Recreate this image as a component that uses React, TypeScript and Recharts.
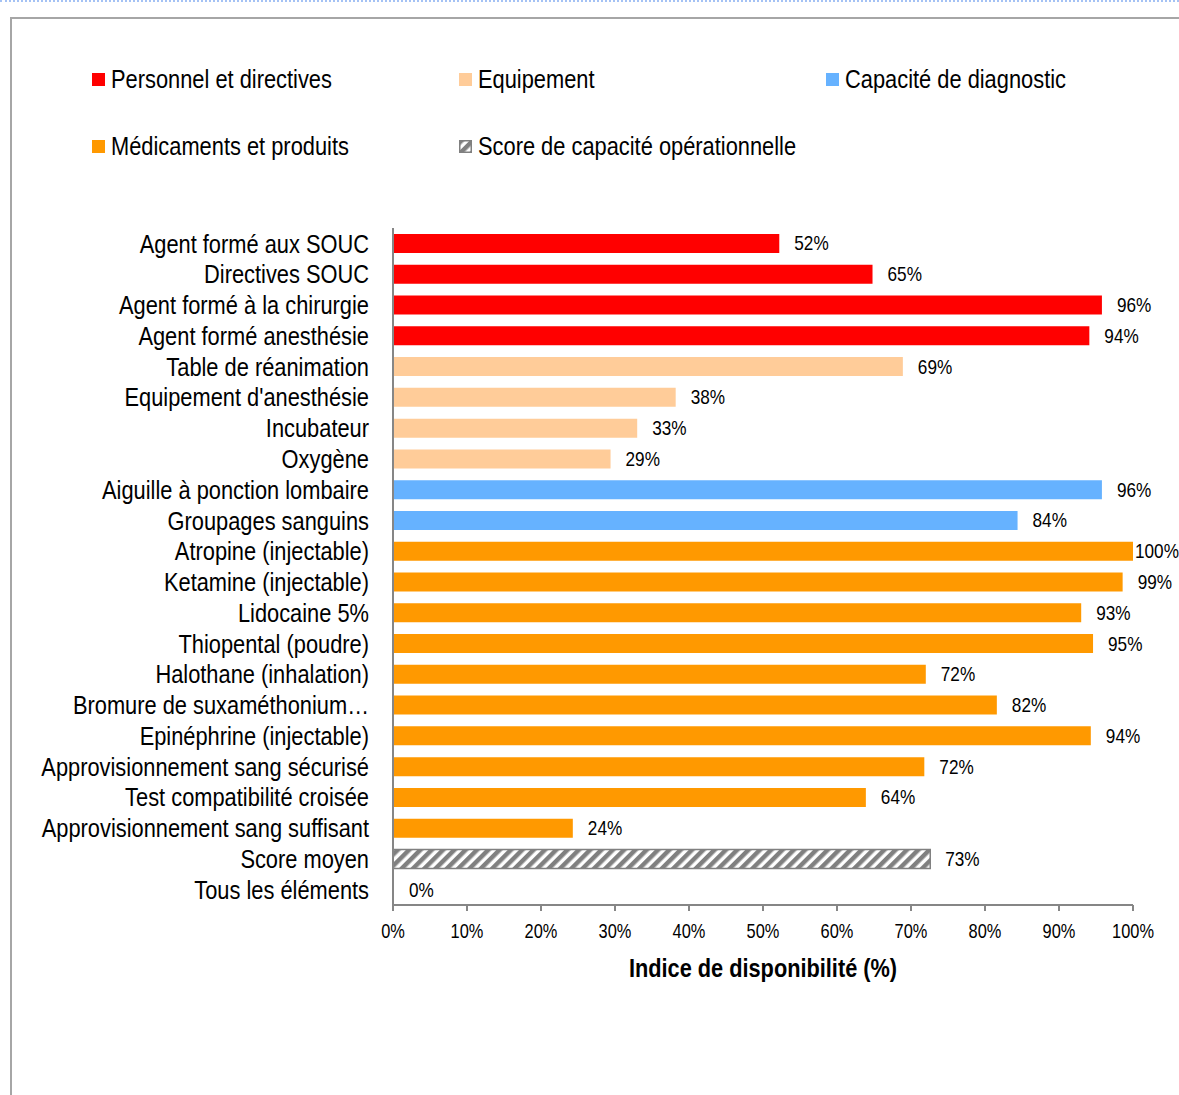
import React from 'react';
import { BarChart, Bar, XAxis, YAxis, Cell, LabelList, Label } from 'recharts';

const categories = [
  'Agent formé aux SOUC',
  'Directives SOUC',
  'Agent formé à la chirurgie',
  'Agent formé anesthésie',
  'Table de réanimation',
  "Equipement d'anesthésie",
  'Incubateur',
  'Oxygène',
  'Aiguille à ponction lombaire',
  'Groupages sanguins',
  'Atropine (injectable)',
  'Ketamine (injectable)',
  'Lidocaine 5%',
  'Thiopental (poudre)',
  'Halothane (inhalation)',
  'Bromure de suxaméthonium…',
  'Epinéphrine (injectable)',
  'Approvisionnement sang sécurisé',
  'Test compatibilité croisée',
  'Approvisionnement sang suffisant',
  'Score moyen',
  'Tous les éléments',
];

const values = [52.2, 64.8, 95.8, 94.1, 68.9, 38.2, 33.0, 29.4, 95.8, 84.4, 100, 98.6, 93.0, 94.6, 72.0, 81.6, 94.3, 71.8, 63.9, 24.3, 72.6, 0];

const groups = ['P', 'P', 'P', 'P', 'E', 'E', 'E', 'E', 'D', 'D', 'M', 'M', 'M', 'M', 'M', 'M', 'M', 'M', 'M', 'M', 'S', 'N'];

const xTicks = [0, 10, 20, 30, 40, 50, 60, 70, 80, 90, 100];

const groupColors: Record<string, string> = {
  P: '#FF0000',
  E: '#FFCC99',
  D: '#66B2FF',
  M: '#FF9900',
  S: 'url(#hatch)',
  N: 'none',
};

const legendItems = [
  { key: 'P', label: 'Personnel et directives' },
  { key: 'E', label: 'Equipement' },
  { key: 'D', label: 'Capacité de diagnostic' },
  { key: 'M', label: 'Médicaments et produits' },
  { key: 'S', label: 'Score de capacité opérationnelle' },
];

const data = categories.map((c, i) => ({ name: c, value: values[i], group: groups[i] }));

const FONT = '"Liberation Sans", Arial, sans-serif';

const NText = ({ x, y, s, size, anchor, bold, children }: any) => (
  <text
    transform={`translate(${x},${y}) scale(${s},1)`}
    x={0}
    y={0}
    textAnchor={anchor || 'start'}
    dominantBaseline="central"
    fontSize={size}
    fontWeight={bold ? 'bold' : 'normal'}
    fill="#000"
    fontFamily={FONT}
  >
    {children}
  </text>
);

const ValueLabel = (props: any) => {
  const { x, y, width, height, value } = props;
  const off = value >= 99.5 ? 2 : 15;
  return (
    <NText x={x + width + off} y={y + height / 2} s={0.86} size={20}>
      {Math.round(value)}%
    </NText>
  );
};

const YTick = (props: any) => {
  const { x, y, payload } = props;
  return (
    <NText x={x} y={y} s={0.84} size={26} anchor="end">
      {payload.value}
    </NText>
  );
};

const XTick = (props: any) => {
  const { x, y, payload } = props;
  return (
    <NText x={x} y={y + 14} s={0.82} size={20} anchor="middle">
      {`${payload.value}%`}
    </NText>
  );
};

const AxisTitle = (props: any) => {
  const vb = props.viewBox || {};
  const cx = vb.x + vb.width / 2;
  return (
    <NText x={cx} y={vb.y + 63} s={0.87} size={25} anchor="middle" bold>
      Indice de disponibilité (%)
    </NText>
  );
};

export default function App() {
  return (
    <div style={{ position: 'absolute', left: 0, top: 0, width: 1179, height: 1095, overflow: 'hidden', background: '#fff', fontFamily: FONT }}>
      <svg width={0} height={0} style={{ position: 'absolute' }}>
        <defs>
          <pattern id="hatch" patternUnits="userSpaceOnUse" width={8} height={8} patternTransform="rotate(45)">
            <rect x={0} y={0} width={8} height={8} fill="#ffffff" />
            <rect x={0} y={0} width={4.5} height={8} fill="#808080" />
          </pattern>
        </defs>
      </svg>
      <div style={{ position: 'absolute', left: 0, top: 0, width: 1179, height: 0, borderTop: '2px dotted #A4C2F4' }} />
      <div style={{ position: 'absolute', left: 10, top: 17, width: 1200, height: 1200, borderLeft: '2px solid #A6A6A6', borderTop: '2px solid #A6A6A6' }} />
      <div style={{ position: 'absolute', left: 0, top: 0 }}>
        <BarChart
          width={1179}
          height={1095}
          data={data}
          layout="vertical"
          margin={{ top: 228, right: 46, bottom: 110, left: 0 }}
          barSize={19}
        >
          <XAxis
            type="number"
            domain={[0, 100]}
            ticks={xTicks}
            interval={0}
            axisLine={{ stroke: '#868686', strokeWidth: 2 }}
            tickLine={{ stroke: '#868686', strokeWidth: 2 }}
            tickSize={6}
            tickMargin={6}
            tick={<XTick />}
            height={80}
          >
            <Label content={<AxisTitle />} />
          </XAxis>
          <YAxis
            type="category"
            dataKey="name"
            width={393}
            interval={0}
            axisLine={{ stroke: '#868686', strokeWidth: 2 }}
            tickLine={false}
            tickSize={0}
            tickMargin={24}
            tick={<YTick />}
          />
          <Bar dataKey="value" isAnimationActive={false} minPointSize={1}>
            {data.map((d, i) => (
              <Cell key={i} fill={groupColors[d.group]} stroke={d.group === 'S' ? '#808080' : 'none'} strokeWidth={d.group === 'S' ? 1.5 : 0} />
            ))}
            <LabelList dataKey="value" content={<ValueLabel />} />
          </Bar>
        </BarChart>
      </div>
      <div style={{ position: 'absolute', left: 92, top: 60, width: 1120, display: 'flex', flexWrap: 'wrap', rowGap: 29 }}>
        {legendItems.map((it) => (
          <div key={it.key} style={{ width: 367, height: 38, display: 'flex', alignItems: 'center', fontSize: 26, color: '#000', whiteSpace: 'nowrap' }}>
            {it.key === 'S' ? (
              <svg width={13} height={13} style={{ marginRight: 6, flex: 'none' }}>
                <rect x={0.75} y={0.75} width={11.5} height={11.5} fill="url(#hatch)" stroke="#808080" strokeWidth={1.5} />
              </svg>
            ) : (
              <div style={{ width: 13, height: 13, background: groupColors[it.key], marginRight: 6, flex: 'none' }} />
            )}
            <span style={{ display: 'inline-block', transform: 'scaleX(0.84)', transformOrigin: 'left center' }}>{it.label}</span>
          </div>
        ))}
      </div>
    </div>
  );
}
